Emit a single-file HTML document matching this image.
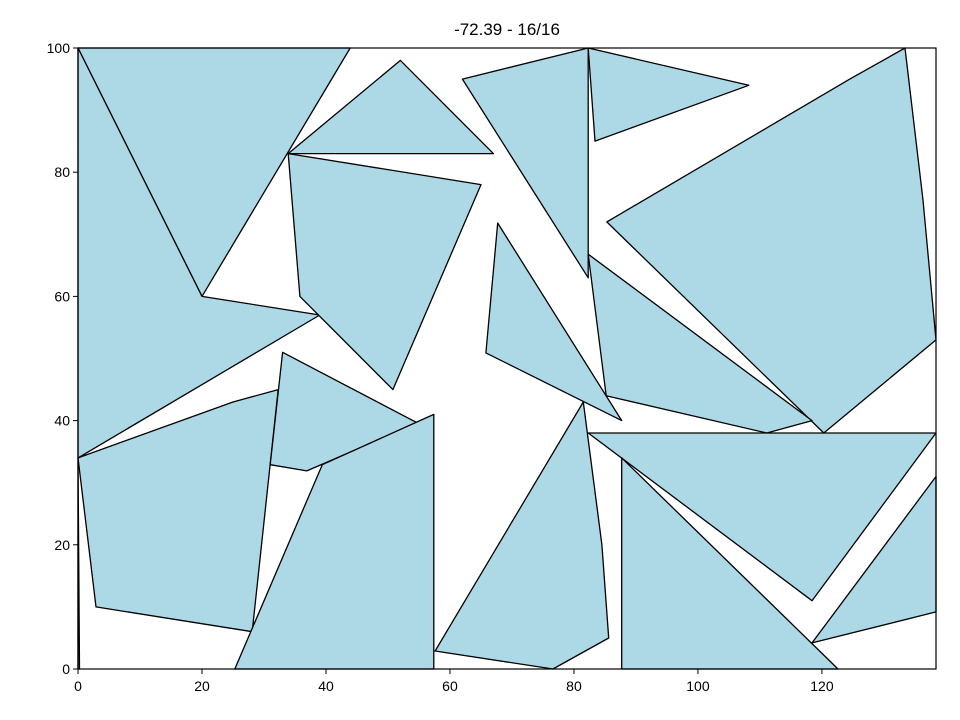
<!DOCTYPE html>
<html><head><meta charset="utf-8"><style>
html,body{margin:0;padding:0;background:#fff;}
svg{display:block;font-family:"Liberation Sans","DejaVu Sans",sans-serif;}
</style></head><body>
<svg id="chart" width="960" height="720">
<text x="507" y="35" font-size="17" text-anchor="middle">-72.39 - 16/16</text>
<g id="polys"></g>
<rect x="78" y="48" width="858" height="621" fill="none" stroke="#000" stroke-width="1.2"/>
<g id="xaxis"></g>
<g id="yaxis"></g>
</svg>
<script>
const xTicks=[0,20,40,60,80,100,120];
const yTicks=[0,20,40,60,80,100];
const xMin=0,xMax=138.4,yMin=0,yMax=100;
const polygons=[
[[0,100],[43.9,100],[20,60]],
[[0,100],[20,60],[39,57],[0,34]],
[[33.9,83],[52,98],[67,83]],
[[33.9,83],[65,78],[50.8,45],[35.8,60]],
[[62,95],[82.3,100],[82.3,63]],
[[82.3,100],[108.2,94],[83.4,85]],
[[85.3,72],[124.5,95],[133.4,100],[136.3,75.5],[138.4,53],[120.3,38]],
[[67.7,71.8],[65.8,50.9],[87.7,40]],
[[82.3,66.8],[85.2,44],[111.1,38],[118.4,40]],
[[0,34],[25,43],[32.3,45],[28.1,6],[2.9,10]],
[[33,51],[54.8,39.6],[36.9,31.9],[31,32.9]],
[[25.3,0],[39.4,32.9],[57.4,41],[57.4,0]],
[[57.6,2.9],[81.5,43],[84.5,20],[85.6,5],[76.6,0]],
[[82.3,38],[138.4,38],[118.4,11]],
[[87.7,34],[87.7,0],[122.6,0]],
[[118.4,4.2],[138.4,31],[138.4,9.2]],
[[0,34],[0.25,0],[0,0]]
];
const L=78,R=936,T=48,B=669;
const sx=v=>L+(v-xMin)/(xMax-xMin)*(R-L);
const sy=v=>B-(v-yMin)/(yMax-yMin)*(B-T);
const NS="http://www.w3.org/2000/svg";
const pg=document.getElementById('polys');
polygons.forEach((p,i)=>{
  const el=document.createElementNS(NS,'polygon');
  el.setAttribute('points',p.map(q=>sx(q[0]).toFixed(1)+','+sy(q[1]).toFixed(1)).join(' '));
  el.setAttribute('fill','#add8e6');el.setAttribute('stroke','#000');el.setAttribute('stroke-width','1.3');
  el.setAttribute('stroke-linejoin','round');
  
  
  pg.appendChild(el);
});
const xa=document.getElementById('xaxis');
xTicks.forEach(t=>{
  const x=sx(t);
  const ln=document.createElementNS(NS,'line');
  ln.setAttribute('x1',x);ln.setAttribute('x2',x);ln.setAttribute('y1',B);ln.setAttribute('y2',B+5);ln.setAttribute('stroke','#000');
  
  
  xa.appendChild(ln);
  const tx=document.createElementNS(NS,'text');
  tx.setAttribute('x',x);tx.setAttribute('y',B+22);tx.setAttribute('text-anchor','middle');tx.setAttribute('font-size','14');
  tx.textContent=t;
  
  
  xa.appendChild(tx);
});
const ya=document.getElementById('yaxis');
yTicks.forEach(t=>{
  const y=sy(t);
  const ln=document.createElementNS(NS,'line');
  ln.setAttribute('x1',L-5);ln.setAttribute('x2',L);ln.setAttribute('y1',y);ln.setAttribute('y2',y);ln.setAttribute('stroke','#000');
  
  
  ya.appendChild(ln);
  const tx=document.createElementNS(NS,'text');
  tx.setAttribute('x',L-8);tx.setAttribute('y',y+5);tx.setAttribute('text-anchor','end');tx.setAttribute('font-size','14');
  tx.textContent=t;
  
  
  ya.appendChild(tx);
});
</script>
</body></html>
